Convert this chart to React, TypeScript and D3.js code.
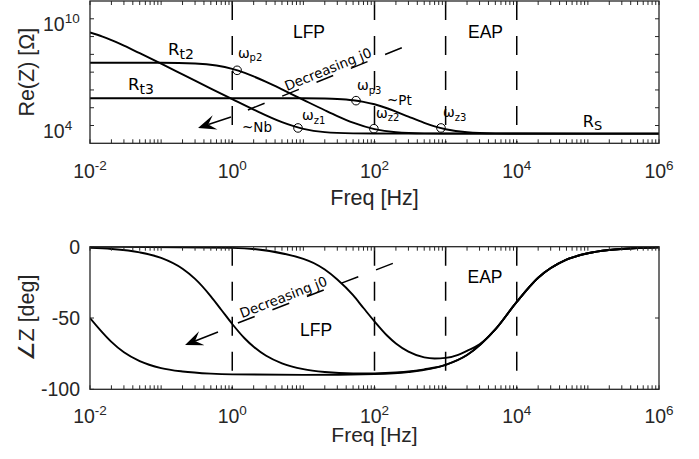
import React from 'react';
import * as d3 from 'd3';

// ---- axis ticks / categories ----
const freqTickExps = [-2, 0, 2, 4, 6];
const reTickExps = [4, 10];
const reDecadeTicks = [4, 5, 6, 7, 8, 9, 10];
const phaseTickVals = [0, -50, -100];
const boundaryFreqs = [1, 100, 1000, 10000];

// ---- Re(Z) curves [Ohm] ----
const rt1Freq = [0.01, 0.015, 0.02, 0.03, 0.05, 0.1, 0.2, 0.5, 1, 2, 5, 10, 20, 50, 100, 1000, 1e6];
const rt1Re = [1.69e9, 9.9e8, 6.28e8, 3.07e8, 1.16e8, 2.98e7, 7.49e6, 1.2e6, 3.04e5, 7.85e4, 1.55e4, 6.5e3, 4.25e3, 3.62e3, 3.53e3, 3.5e3, 3.5e3];

const rt2Freq = [0.01, 0.1, 0.3, 0.6, 1, 1.5, 2, 3, 5, 10, 20, 30, 50, 100, 200, 500, 1000, 1e4, 1e6];
const rt2Re = [3.4e7, 3.36e7, 3.06e7, 2.35e7, 1.52e7, 9.0e6, 5.7e6, 2.8e6, 1.07e6, 2.76e5, 7.2e4, 3.4e4, 1.45e4, 6.25e3, 4.2e3, 3.6e3, 3.53e3, 3.5e3, 3.5e3];

const rt3Freq = [0.01, 1, 10, 20, 30, 50, 70, 100, 150, 200, 300, 500, 700, 1000, 2000, 5000, 1e4, 1e6];
const rt3Re = [3.43e5, 3.43e5, 3.39e5, 3.28e5, 3.1e5, 2.63e5, 2.15e5, 1.56e5, 9.35e4, 6.07e4, 3.16e4, 1.42e4, 9.0e3, 6.2e3, 4.19e3, 3.61e3, 3.53e3, 3.5e3];

// marker points (omega labels)
const markerFreq = [1.17, 8.4, 55, 98, 860];
const markerRe = [1.27e7, 7.3e3, 2.5e5, 6.6e3, 7.3e3];

// ---- phase curves [deg] ----
const phAFreq = [0.01, 0.015, 0.02, 0.03, 0.05, 0.1, 0.2, 0.5, 1, 10, 100, 300, 1000, 2000, 5000, 1e4, 2e4, 5e4, 1e5, 2e5, 5e5, 1e6];
const phA = [-50, -60.2, -66.7, -74, -80.2, -85.1, -87.5, -89, -89.5, -89.9, -89.3, -87.9, -82.9, -76, -58, -38.7, -21.8, -9.1, -4.6, -2.3, -0.9, -0.5];

const phBFreq = [0.01, 0.02, 0.05, 0.1, 0.2, 0.3, 0.5, 0.7, 1, 1.5, 2, 3, 5, 10, 20, 50, 100, 200, 500, 1000, 2000, 5000, 1e4, 2e4, 5e4, 1e5, 2e5, 5e5, 1e6];
const phB = [-0.8, -1.6, -4, -7.9, -15.5, -22.6, -34.8, -44.2, -54.2, -64.4, -70.2, -76.5, -81.8, -85.9, -87.9, -88.9, -88.8, -88.2, -86, -82.9, -76, -58, -38.7, -21.8, -9.1, -4.6, -2.3, -0.9, -0.5];

const phCFreq = [0.01, 1, 10, 20, 30, 50, 70, 100, 150, 200, 300, 500, 700, 1000, 1500, 2000, 3000, 5000, 1e4, 2e4, 5e4, 1e5, 2e5, 5e5, 1e6];
const phC = [0, -0.8, -8.5, -16, -23, -34, -43, -52.4, -62.3, -67.9, -73.6, -77.6, -78.4, -78, -75.8, -73, -68.5, -58, -38.7, -21.8, -9.1, -4.6, -2.3, -0.9, -0.5];

const AX = '#262626';
const SANS = '"Liberation Sans", Arial, Helvetica, sans-serif';
const ANN = '"DejaVu Sans", sans-serif';

type P = [number, number];

function Arrow({ tail, tip }: { tail: P; tip: P }) {
  const dx = tip[0] - tail[0];
  const dy = tip[1] - tail[1];
  const len = Math.hypot(dx, dy);
  const ux = dx / len, uy = dy / len;
  const nx = -uy, ny = ux;
  const L = 18, Wd = 7.5;
  const head = [
    [tip[0], tip[1]],
    [tip[0] - ux * L + nx * Wd, tip[1] - uy * L + ny * Wd],
    [tip[0] - ux * L * 0.6, tip[1] - uy * L * 0.6],
    [tip[0] - ux * L - nx * Wd, tip[1] - uy * L - ny * Wd],
  ];
  return (
    <g>
      <line x1={tail[0]} y1={tail[1]} x2={tip[0] - ux * L * 0.6} y2={tip[1] - uy * L * 0.6} stroke="#000" strokeWidth={1.5} />
      <polygon points={head.map((p) => p.join(',')).join(' ')} fill="#000" />
    </g>
  );
}

function DashLabel({ p0, p1, t, label }: { p0: P; p1: P; t: number; label: string }) {
  const ang = (Math.atan2(p1[1] - p0[1], p1[0] - p0[0]) * 180) / Math.PI;
  const cx = p0[0] + (p1[0] - p0[0]) * t;
  const cy = p0[1] + (p1[1] - p0[1]) * t;
  return (
    <g>
      <line x1={p0[0]} y1={p0[1]} x2={p1[0]} y2={p1[1]} stroke="#000" strokeWidth={1.5} strokeDasharray="18,19" />
      <text transform={`translate(${cx},${cy}) rotate(${ang})`} y={-3} textAnchor="middle" fontFamily={ANN} fontSize={13.5} fill="#000">
        {label}
      </text>
    </g>
  );
}

function Sub({ x, y, main, sub, size, subSize, dy, anchor }: any) {
  return (
    <text x={x} y={y} fontFamily={ANN} fontSize={size} fill="#000" textAnchor={anchor || 'start'}>
      <tspan>{main}</tspan>
      <tspan fontSize={subSize} dy={dy}>{sub}</tspan>
    </text>
  );
}

export default function App() {
  const x0 = 90, x1 = 659;
  const tTop = 1, tBot = 143.3;
  const bTop = 246.7, bBot = 389.3;
  const x = d3.scaleLog().domain([1e-2, 1e6]).range([x0, x1]);
  const yT = d3.scaleLog().domain([1e3, 1e11]).range([tBot, tTop]);
  const yB = d3.scaleLinear().domain([-100, 0]).range([bBot, bTop]);

  const lineT = d3.line<P>().x((d) => x(d[0])).y((d) => yT(d[1])).curve(d3.curveMonotoneX);
  const lineB = d3.line<P>().x((d) => x(d[0])).y((d) => yB(d[1])).curve(d3.curveMonotoneX);
  const zip = (a: number[], b: number[]) => a.map((v, i) => [v, b[i]] as P);

  const minorTicks: number[] = [];
  for (let e = -2; e < 6; e++) for (let m = 1; m < 10; m++) minorTicks.push(m * Math.pow(10, e));
  minorTicks.push(1e6);

  const xTickMarks = (top: number, bot: number) =>
    minorTicks.map((f, i) => (
      <g key={i}>
        <line x1={x(f)} x2={x(f)} y1={bot} y2={bot - 4} stroke={AX} strokeWidth={1} />
        <line x1={x(f)} x2={x(f)} y1={top} y2={top + 4} stroke={AX} strokeWidth={1} />
      </g>
    ));

  const xTickLabels = (base: number) =>
    freqTickExps.map((e) => (
      <text key={e} x={x(Math.pow(10, e))} y={base} textAnchor="middle" fontFamily={SANS} fontSize={19.5} fill={AX}>
        10<tspan fontSize={13.5} dy={-8}>{e}</tspan>
      </text>
    ));

  const P_ = (f: number, v: number): P => [x(f), yT(v)];
  const Q_ = (f: number, v: number): P => [x(f), yB(v)];

  return (
    <svg width={699} height={459} style={{ position: 'absolute', left: 0, top: 0, background: '#fff' }}>
      <defs>
        <clipPath id="clipT"><rect x={x0} y={tTop} width={x1 - x0} height={tBot - tTop} /></clipPath>
        <clipPath id="clipB"><rect x={x0} y={bTop} width={x1 - x0} height={bBot - bTop} /></clipPath>
      </defs>
      <rect width={699} height={459} fill="#fff" />

      {/* ===== TOP PLOT ===== */}
      <g clipPath="url(#clipT)">
        {boundaryFreqs.map((f) => (
          <line key={f} x1={x(f)} x2={x(f)} y1={tTop} y2={tBot} stroke="#000" strokeWidth={1.5} strokeDasharray="19,16" />
        ))}
        <path d={lineT(zip(rt1Freq, rt1Re)) || ''} fill="none" stroke="#000" strokeWidth={1.9} />
        <path d={lineT(zip(rt2Freq, rt2Re)) || ''} fill="none" stroke="#000" strokeWidth={1.9} />
        <path d={lineT(zip(rt3Freq, rt3Re)) || ''} fill="none" stroke="#000" strokeWidth={1.9} />
        {markerFreq.map((f, i) => (
          <circle key={i} cx={x(f)} cy={yT(markerRe[i])} r={4.3} fill="none" stroke="#000" strokeWidth={1} />
        ))}
        <DashLabel p0={P_(1.66, 7.5e4)} p1={P_(277, 2.95e8)} t={0.525} label="Decreasing j0" />
        <Arrow tail={P_(0.96, 3.0e4)} tip={P_(0.33, 7.3e3)} />
      </g>
      {/* top annotations */}
      <text x={x(12)} y={yT(8.3e8)} textAnchor="middle" fontFamily={SANS} fontSize={17.5} fill="#000">LFP</text>
      <text x={x(3.64e3)} y={yT(8.3e8)} textAnchor="middle" fontFamily={SANS} fontSize={17.5} fill="#000">EAP</text>
      <Sub x={x(0.125)} y={yT(9.2e7)} main="R" sub="t2" size={16.5} subSize={14} dy={4} />
      <Sub x={x(0.0342)} y={yT(9.9e5)} main="R" sub="t3" size={16.5} subSize={14} dy={4} />
      <Sub x={x(8.5e4)} y={yT(8.3e3)} main="R" sub="S" size={16} subSize={13} dy={3.5} />
      <Sub x={x(1.2)} y={yT(6.3e7)} main="ω" sub="p2" size={14} subSize={10} dy={3.5} />
      <Sub x={x(9.6)} y={yT(2.04e4)} main="ω" sub="z1" size={14} subSize={10} dy={3.5} />
      <Sub x={x(56.8)} y={yT(9.9e5)} main="ω" sub="p3" size={14} subSize={10} dy={3.5} />
      <Sub x={x(105)} y={yT(2.65e4)} main="ω" sub="z2" size={14} subSize={10} dy={3.5} />
      <Sub x={x(918)} y={yT(3.0e4)} main="ω" sub="z3" size={14} subSize={10} dy={3.5} />
      <text x={x(1.37)} y={yT(4.3e3)} fontFamily={ANN} fontSize={13.5} fill="#000">~Nb</text>
      <text x={x(150)} y={yT(1.43e5)} fontFamily={ANN} fontSize={13.5} fill="#000">~Pt</text>

      {/* top axes */}
      {xTickMarks(tTop, tBot)}
      {reDecadeTicks.map((e) => (
        <g key={e}>
          <line x1={x0} x2={x0 + 4} y1={yT(Math.pow(10, e))} y2={yT(Math.pow(10, e))} stroke={AX} strokeWidth={1} />
          <line x1={x1} x2={x1 - 4} y1={yT(Math.pow(10, e))} y2={yT(Math.pow(10, e))} stroke={AX} strokeWidth={1} />
        </g>
      ))}
      <rect x={x0} y={tTop} width={x1 - x0} height={tBot - tTop} fill="none" stroke={AX} strokeWidth={1.3} />
      {xTickLabels(tBot + 34.7)}
      {reTickExps.map((e) => (
        <text key={e} x={x0 - 47} y={yT(Math.pow(10, e)) + 12.5} fontFamily={SANS} fontSize={19.5} fill={AX}>
          10<tspan fontSize={13.5} dy={-8}>{e}</tspan>
        </text>
      ))}
      <text x={(x0 + x1) / 2} y={205} textAnchor="middle" fontFamily={SANS} fontSize={21.5} fill={AX}>Freq [Hz]</text>
      <text transform={`translate(34,${(tTop + tBot) / 2}) rotate(-90)`} textAnchor="middle" fontFamily={SANS} fontSize={21.5} fill={AX}>Re(Z) [Ω]</text>

      {/* ===== BOTTOM PLOT ===== */}
      <g clipPath="url(#clipB)">
        {boundaryFreqs.map((f) => (
          <line key={f} x1={x(f)} x2={x(f)} y1={bTop} y2={bBot} stroke="#000" strokeWidth={1.5} strokeDasharray="19,16" />
        ))}
        <path d={lineB(zip(phAFreq, phA)) || ''} fill="none" stroke="#000" strokeWidth={1.9} />
        <path d={lineB(zip(phBFreq, phB)) || ''} fill="none" stroke="#000" strokeWidth={1.9} />
        <path d={lineB(zip(phCFreq, phC)) || ''} fill="none" stroke="#000" strokeWidth={1.9} />
        <DashLabel p0={Q_(1.2, -53.5)} p1={Q_(188, -11.4)} t={0.31} label="Decreasing j0" />
        <Arrow tail={Q_(0.63, -59.8)} tip={Q_(0.217, -68.9)} />
      </g>
      <text x={x(15.1)} y={yB(-62.6)} textAnchor="middle" fontFamily={SANS} fontSize={17.5} fill="#000">LFP</text>
      <text x={x(3.58e3)} y={yB(-25.5)} textAnchor="middle" fontFamily={SANS} fontSize={17.5} fill="#000">EAP</text>

      {xTickMarks(bTop, bBot)}
      {phaseTickVals.map((v) => (
        <g key={v}>
          <line x1={x0} x2={x0 + 4} y1={yB(v)} y2={yB(v)} stroke={AX} strokeWidth={1} />
          <line x1={x1} x2={x1 - 4} y1={yB(v)} y2={yB(v)} stroke={AX} strokeWidth={1} />
          <text x={x0 - 10} y={yB(v) + 6.8} textAnchor="end" fontFamily={SANS} fontSize={19.5} fill={AX}>{v}</text>
        </g>
      ))}
      <rect x={x0} y={bTop} width={x1 - x0} height={bBot - bTop} fill="none" stroke={AX} strokeWidth={1.3} />
      {xTickLabels(bBot + 33.7)}
      <text x={(x0 + x1) / 2} y={442} textAnchor="middle" fontFamily={SANS} fontSize={21} fill={AX}>Freq [Hz]</text>
      <text transform={`translate(34,${(bTop + bBot) / 2}) rotate(-90)`} textAnchor="middle" fontFamily={SANS} fontSize={21.5} fill={AX}>∠Z [deg]</text>
    </svg>
  );
}
